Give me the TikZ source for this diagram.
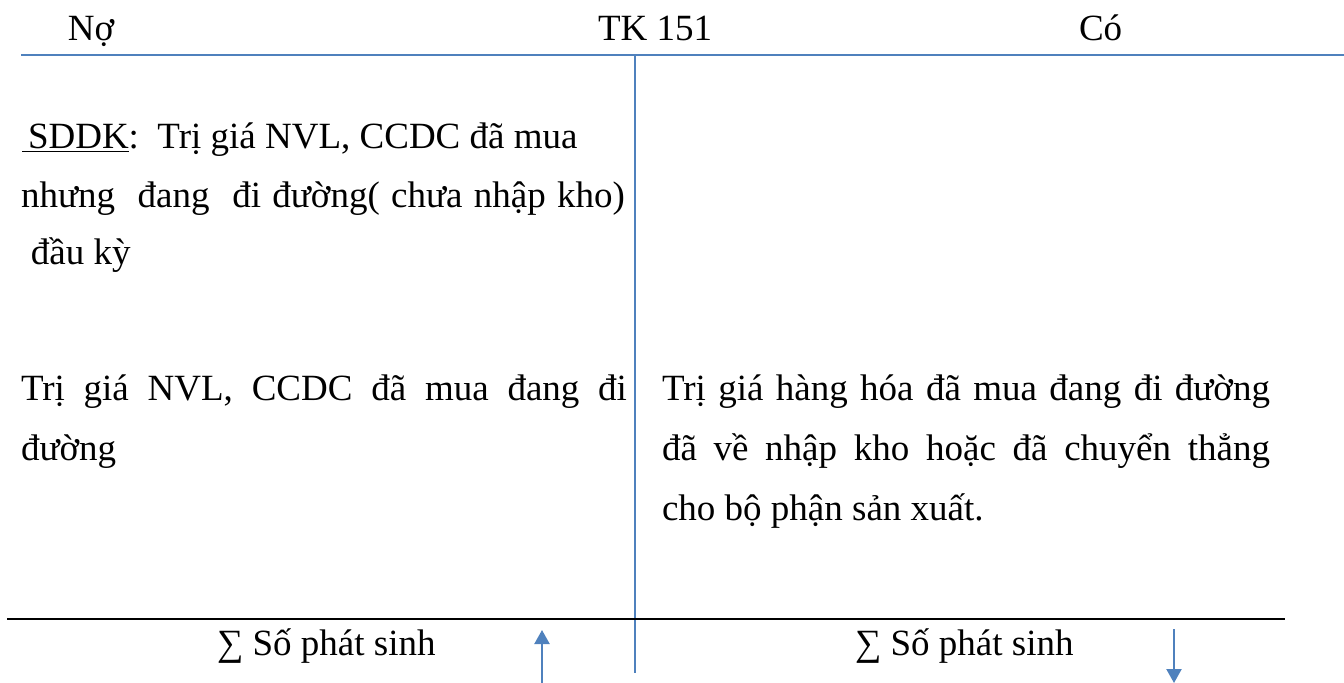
\documentclass[tikz,border=0pt]{standalone}
\usepackage{fontspec}
\setmainfont{Liberation Serif}
\usetikzlibrary{arrows.meta}
\definecolor{accblue}{HTML}{4F81BD}
\begin{document}
\begin{tikzpicture}[x=0.5pt,y=-0.5pt,
  txt/.style={anchor=base west,inner sep=0pt,outer sep=0pt,
    font=\fontsize{18.5}{22}\selectfont},
  blueline/.style={draw=accblue,line width=1.1pt},
  blackline/.style={draw=black,line width=1.3pt},
  flowarrow/.style={draw=accblue,line width=1.1pt,
    -{Triangle[length=7pt,width=7.5pt]}}]
\useasboundingbox (0,0) rectangle (1344,682);

% T-account frame
\coordinate (topL) at (21,55);
\coordinate (topR) at (1344,55);
\coordinate (midT) at (635,55);
\coordinate (midB) at (635,673);
\coordinate (sumL) at (7,619);
\coordinate (sumR) at (1285,619);
\draw[blueline] (topL) -- (topR);
\draw[blueline] (midT) -- (midB);
\draw[blackline] (sumL) -- (sumR);

% header
\node[txt] (no) at (68,40) {Nợ};
\node[txt] (tk) at (598,40) {TK 151};
\node[txt] (co) at (1079,40) {Có};

% opening balance
\node[txt] (sd1) at (22,148) {\underline{\hspace{3pt}SDDK}:\ \ Trị giá NVL, CCDC đã mua};
\node[txt] (sd2) at (21,207) {\makebox[302pt][s]{nhưng\ \ đang\ \ đi đường( chưa nhập kho)}};
\node[txt] (sd3) at (31,264) {đầu kỳ};

% debit side
\node[txt] (dr1) at (21,400) {\makebox[303pt][s]{Trị giá NVL, CCDC đã mua đang đi}};
\node[txt] (dr2) at (21,460) {đường};

% credit side
\node[txt] (cr1) at (662,400) {\makebox[304pt][s]{Trị giá hàng hóa đã mua đang đi đường}};
\node[txt] (cr2) at (662,460) {\makebox[304pt][s]{đã về nhập kho hoặc đã chuyển thẳng}};
\node[txt] (cr3) at (662,520) {cho bộ phận sản xuất.};

% totals
\node[txt] (sumdr) at (217,655) {∑ Số phát sinh};
\node[txt] (sumcr) at (855,655) {∑ Số phát sinh};

% direction arrows
\coordinate (upA) at (542,684);
\coordinate (upB) at (542,630);
\coordinate (dnA) at (1174,629);
\coordinate (dnB) at (1174,683);
\draw[flowarrow] (upA) -- (upB);
\draw[flowarrow] (dnA) -- (dnB);
\end{tikzpicture}
\end{document}
